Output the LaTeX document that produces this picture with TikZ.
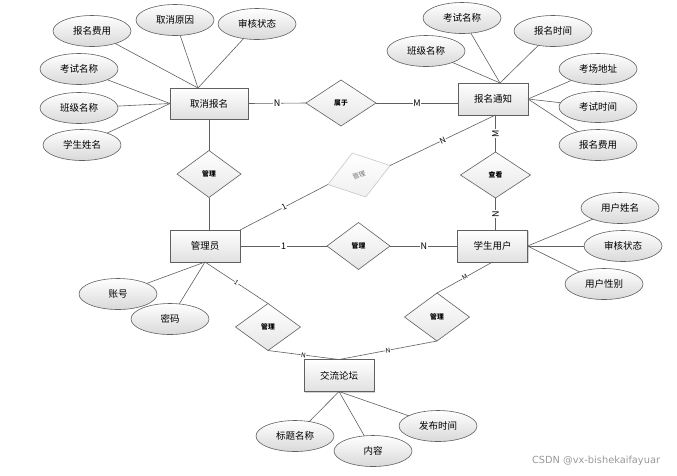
\documentclass[tikz,border=0pt]{standalone}
\usepackage{fontspec}
\setmainfont{Noto Sans CJK SC}
\newfontfamily\wmfont{DejaVu Sans}
\usetikzlibrary{shapes.geometric,shadows,calc}
\definecolor{edgec}{HTML}{606060}
\begin{document}
\begin{tikzpicture}[x=1pt,y=-1pt,
 ent/.style={draw=edgec, line width=0.7pt, top color=white, bottom color=black!12, minimum width=70pt, minimum height=32pt, inner sep=0pt, outer sep=0pt, font=\fontsize{9.5}{11}\selectfont, drop shadow={shadow xshift=1.2pt, shadow yshift=-1.2pt, opacity=0.35, fill=black!50}},
 attr/.style={ellipse, draw=edgec, line width=0.6pt, top color=white, bottom color=black!15, minimum width=78pt, minimum height=31pt, inner sep=0pt, outer sep=0pt, font=\fontsize{9.5}{11}\selectfont},
 rel/.style={diamond, draw=edgec, line width=0.6pt, top color=white, bottom color=black!10, minimum width=64pt, minimum height=47pt, inner sep=0pt, outer sep=0pt, font=\fontsize{6.8}{7}\selectfont\bfseries},
 ln/.style={draw=edgec, line width=0.6pt},
 card/.style={fill=white, inner sep=0.6pt, font=\fontsize{9}{10}\selectfont},
 cardm/.style={fill=white, inner sep=0.4pt, font=\fontsize{8}{9}\selectfont},
 cards/.style={fill=white, inner sep=0.3pt, font=\fontsize{6.5}{7}\selectfont}
]
\useasboundingbox (0,0) rectangle (677,475);
\fill[white] (0,0) rectangle (677,475);

% entities
\node[ent, minimum width=78pt, minimum height=31pt] (qx) at (209,103.5) {取消报名};
\node[ent] (bt) at (493,99) {报名通知};
\node[ent] (gly) at (205,246) {管理员};
\node[ent] (xs) at (492.5,246) {学生用户};
\node[ent] (jl) at (339,375.5) {交流论坛};

% relations
\node[rel, minimum width=70pt, minimum height=46pt] (sy) at (341,103) {属于};
\node[rel] (gl1) at (209,174) {管理};
\node[rel, minimum width=70pt, minimum height=46pt] (ck) at (495.5,175) {查看};
\node[rel, minimum width=63pt] (gl2) at (358.5,246) {管理};
\node[rel, minimum width=65pt] (gl3) at (268,327) {管理};
\node[rel, minimum width=65pt, minimum height=48pt] (gl4) at (437,317) {管理};
\node[rel, rotate=17, draw=black!22, bottom color=black!6, minimum width=65pt, minimum height=46pt, font=\fontsize{6.5}{7}\selectfont, text=black!55] (gm) at (359,175) {管理};

% attributes
\node[attr] (a1) at (92,31) {报名费用};
\node[attr] (a2) at (175,20) {取消原因};
\node[attr] (a3) at (257,24) {审核状态};
\node[attr] (a4) at (79,69) {考试名称};
\node[attr] (a5) at (79,108) {班级名称};
\node[attr] (a6) at (82,145) {学生姓名};
\node[attr] (b1) at (462,18) {考试名称};
\node[attr] (b2) at (553,31) {报名时间};
\node[attr] (b3) at (426,51) {班级名称};
\node[attr] (b4) at (598,69) {考场地址};
\node[attr] (b5) at (598,107) {考试时间};
\node[attr] (b6) at (598,145) {报名费用};
\node[attr] (c1) at (118,294) {账号};
\node[attr] (c2) at (170,319) {密码};
\node[attr] (d1) at (620,208) {用户姓名};
\node[attr] (d2) at (623,246) {审核状态};
\node[attr] (d3) at (604,284) {用户性别};
\node[attr] (e1) at (295,436) {标题名称};
\node[attr] (e2) at (373,451) {内容};
\node[attr] (e3) at (438,426) {发布时间};

% attachment points
\coordinate (qxT) at ([xshift=-11pt]qx.north);
\coordinate (btT) at ([xshift=7pt]bt.north);

% attribute lines
\foreach \a in {a1,a2,a3} \draw[ln] (\a) -- (qxT);
\foreach \a in {a4,a5,a6} \draw[ln] (\a) -- (qx.west);
\foreach \a in {b1,b2,b3} \draw[ln] (\a) -- (btT);
\foreach \a in {b4,b5,b6} \draw[ln] (\a) -- (bt.east);
\foreach \a in {c1,c2} \draw[ln] (\a) -- (gly.south);
\foreach \a in {d1,d2,d3} \draw[ln] (\a) -- (xs.east);
\foreach \a in {e1,e2,e3} \draw[ln] (\a) -- (jl.south);

% relationship lines
\draw[ln] (qx.east) -- node[card] {N} (sy.west);
\draw[ln] (sy.east) -- node[card] {M} (sy.east -| bt.west);
\draw[ln] (qx.south) -- (gl1.north);
\draw[ln] (gl1.south) -- (gl1.south |- gly.north);
\draw[ln] (gly.north east) -- node[cardm, sloped] {1} (gm.west);
\draw[ln] (gm.east) -- node[cardm, sloped] {N} (ck.north |- bt.south);
\draw[ln] (ck.north |- bt.south) -- node[card, rotate=90] {M} (ck.north);
\draw[ln] (ck.south) -- node[card, rotate=90] {N} (ck.south |- xs.north);
\draw[ln] (gly.east) -- node[card] {1} (gl2.west);
\draw[ln] (gl2.east) -- node[card] {N} (xs.west);
\draw[ln] (gly.south) -- node[cards, sloped] {1} (gl3.north);
\draw[ln] (gl3.south) -- node[cards, sloped] {N} (jl.north);
\draw[ln] (xs.south) -- node[cards, sloped] {M} (gl4.north);
\draw[ln] (gl4.south) -- node[cards, sloped] {N} (jl.north);

% watermark
\node[font=\wmfont\fontsize{9.8}{11}\selectfont, text=black!40] (wm) at (596,461) {CSDN @vx-bishekaifayuar};
\end{tikzpicture}
\end{document}
